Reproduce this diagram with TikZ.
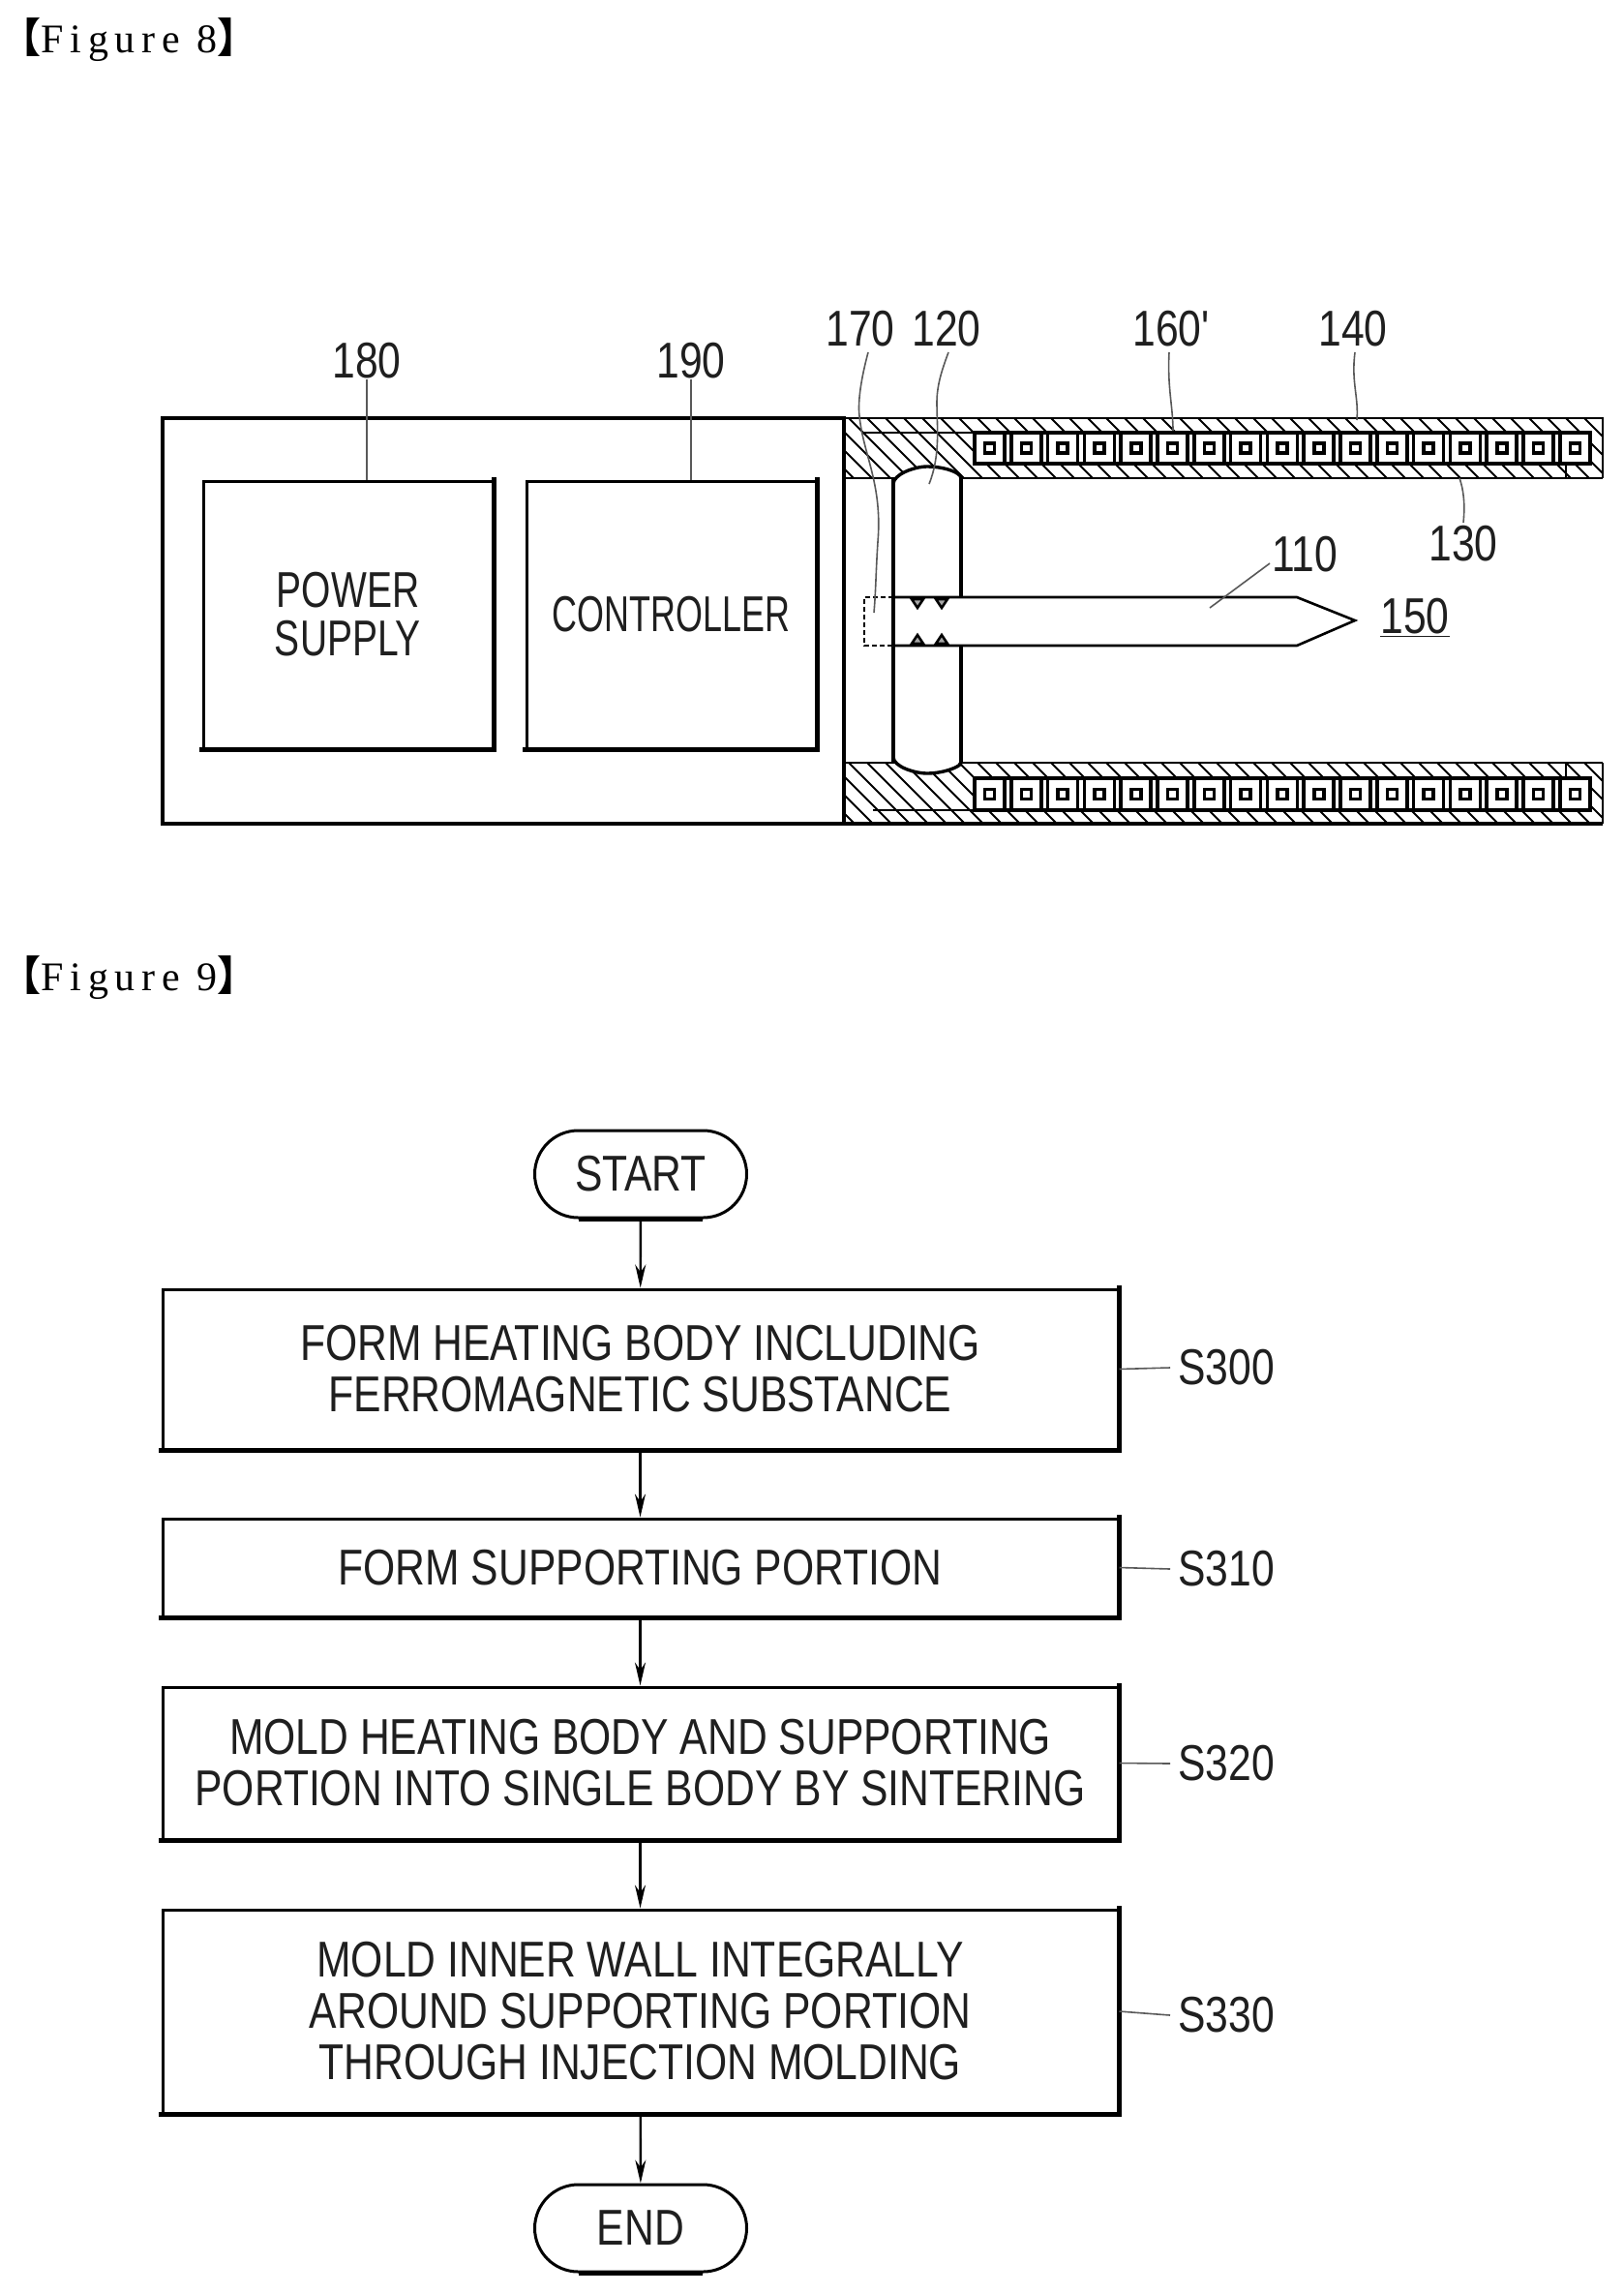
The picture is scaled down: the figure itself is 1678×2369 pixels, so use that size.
\documentclass[tikz,border=0pt]{standalone}
\usepackage{fontspec}
\usetikzlibrary{arrows.meta,shapes.misc}
\setmainfont{Liberation Serif}
\newfontfamily\lab[FakeStretch=0.82]{Liberation Sans}
\newfontfamily\labp[FakeStretch=0.75]{Liberation Sans}
\newfontfamily\labc[FakeStretch=0.69]{Liberation Sans}
\newfontfamily\headf[LetterSpace=16.4]{Liberation Serif}
\newfontfamily\cjk{Noto Sans CJK JP}
\newcommand{\labsize}{\fontsize{52}{54}\selectfont\lab}
\tikzset{
  x=1pt,y=-1pt,
  head/.style={anchor=west,inner sep=0pt,font=\fontsize{42}{46}\selectfont\headf},
  txt/.style={inner sep=0pt,align=center,font=\labsize,text=black!88},
  flowbox/.style={draw,line width=3pt,fill=white,minimum width=987pt,align=center,inner sep=0pt,font=\labsize,text=black!88},
  sidebox/.style={draw,line width=3pt,fill=white,minimum width=299pt,minimum height=276pt,align=center,inner sep=0pt,text=black!88},
  term/.style={draw,line width=3pt,fill=white,rounded rectangle,minimum width=219pt,minimum height=90pt,inner sep=0pt,font=\labsize,text=black!88},
  shade/.style={line width=5pt,line cap=rect},
  termshade/.style={line width=5pt},
  arr/.style={line width=2.4pt,-{Stealth[length=24pt,width=11pt]}},
  leader/.style={line width=1.6pt,black!65},
  wall/.style={line width=3.4pt},
  thinline/.style={line width=2pt},
  hatch/.style={line width=2.1pt},
  coil/.style={draw,line width=3.6pt,fill=white},
  coilin/.style={draw,line width=3.6pt,fill=white},
  tooth/.style={draw,line width=2.6pt,fill=black!35},
}
\begin{document}
\begin{tikzpicture}
\useasboundingbox (0,0) rectangle (1678,2369);
\fill[white] (0,0) rectangle (1678,2369);

% headings
\node[head] (h8) at (0,41) {{\cjk\bfseries 【}Figure 8{\cjk\bfseries 】}};
\node[head] (h9) at (0,1010) {{\cjk\bfseries 【}Figure 9{\cjk\bfseries 】}};

% Figure 8: housing
\draw[wall] (168,432) rectangle (872,851);
\node[sidebox,font=\fontsize{52}{50}\selectfont\labp] (ps) at (359.5,635) {POWER\\SUPPLY};
\node[sidebox,font=\fontsize{52}{54}\selectfont\labc] (ctl) at (693.5,635) {CONTROLLER};
\draw[shade] (ps.south west) -- (ps.south east) -- (ps.north east);
\draw[shade] (ctl.south west) -- (ctl.south east) -- (ctl.north east);

% Figure 8: hatched wall
\begin{scope}
  \clip (872,432) rectangle (1656,494) (872,788) rectangle (1656,851);
  \foreach \k in {0,...,90}{
    \pgfmathsetmacro{\xs}{440+19*\k}
    \draw[hatch] (\xs,432) -- ++(70,70);
    \draw[hatch] (\xs,788) -- ++(70,70);
  }
\end{scope}
\draw[thinline] (872,432) -- (1656,432) -- (1656,494);
\draw[wall] (872,851) -- (1656,851);
\draw[thinline] (1656,851) -- (1656,788);
\draw[wall] (872,432) -- (872,851);
\draw[thinline] (872,494) -- (1656,494);
\draw[thinline] (872,788) -- (1656,788);

% support portion
\fill[white] (923,500) .. controls (923,490) and (945,482) .. (958,482) .. controls (975,482) and (993,488) .. (993,500)
  -- (993,782) .. controls (993,792) and (975,799) .. (958,799) .. controls (945,799) and (923,792) .. (923,782) -- cycle;
\draw[wall] (923,500) .. controls (923,490) and (945,482) .. (958,482) .. controls (975,482) and (993,488) .. (993,494);
\draw[wall] (923,782) .. controls (923,792) and (945,799) .. (958,799) .. controls (975,799) and (993,792) .. (993,788);
\draw[wall] (923,494) -- (923,788);
\draw[wall] (993,494) -- (993,617);
\draw[wall] (993,667) -- (993,788);

% coil rows
\draw[thinline] (890,447) -- (1007,447);
\draw[thinline] (902,837) -- (1007,837);
\fill[white] (1007,447) rectangle (1642,479);
\fill[white] (1007,804) rectangle (1642,837);
\draw[wall] (1007,447) -- (1642,447) -- (1642,479) -- (1007,479);
\draw[wall] (1007,804) -- (1642,804) -- (1642,837) -- (1007,837);
\draw[thinline] (1618,479) -- (1618,494) (1618,788) -- (1618,804);
\foreach \k in {0,...,16}{
  \pgfmathsetmacro{\xa}{1007+37.8*\k}
  \pgfmathsetmacro{\xb}{\xa+31}
  \pgfmathsetmacro{\xc}{\xa+10.5}
  \pgfmathsetmacro{\xd}{\xa+20.5}
  \draw[coil] (\xa,447) rectangle (\xb,479);
  \draw[coilin] (\xc,458) rectangle (\xd,468);
  \draw[coil] (\xa,804) rectangle (\xb,837);
  \draw[coilin] (\xc,815.5) rectangle (\xd,825.5);
}

% heating body
\fill[white] (893,617) -- (1340,617) -- (1400,641) -- (1340,667) -- (893,667) -- cycle;
\draw[thinline,dash pattern=on 5pt off 3pt] (923,617) -- (893,617) -- (893,667) -- (923,667);
\draw[line width=2.6pt] (923,617) -- (1340,617) -- (1400,641) -- (1340,667) -- (923,667);
\draw[wall] (923,617) -- (923,667);
\draw[tooth] (942,619) -- (954,619) -- (948,628) -- cycle;
\draw[tooth] (967,619) -- (979,619) -- (973,628) -- cycle;
\draw[tooth] (942,665) -- (954,665) -- (948,656) -- cycle;
\draw[tooth] (967,665) -- (979,665) -- (973,656) -- cycle;

% Figure 8: labels
\node[txt] (l180) at (379,373) {180};
\node[txt] (l190) at (714,373) {190};
\node[txt] (l170) at (889,340) {170};
\node[txt] (l120) at (978,340) {120};
\node[txt] (l160) at (1210,340) {160'};
\node[txt] (l140) at (1398,340) {140};
\node[txt] (l130) at (1512,562) {130};
\node[txt] (l110) at (1348,573) {110};
\node[txt] (l150) at (1462,638) {\underline{150}};
\coordinate (e170) at (903,633);
\coordinate (e120) at (960,500);
\coordinate (e160) at (1212,445);
\coordinate (e140) at (1402,434);
\coordinate (e130) at (1508,494);
\coordinate (e110) at (1250,628);
\draw[leader] (l180.south) -- (ps.north -| l180.south);
\draw[leader] (l190.south) -- (ctl.north -| l190.south);
\draw[leader] (897,364) .. controls (890,390) and (886,415) .. (888,430) .. controls (892,470) and (912,500) .. (907,560) .. controls (905,590) and (905,610) .. (e170);
\draw[leader] (980,364) .. controls (972,385) and (968,400) .. (968,416) .. controls (968,440) and (972,470) .. (e120);
\draw[leader] (1208,364) .. controls (1206,400) and (1212,420) .. (e160);
\draw[leader] (1400,364) .. controls (1396,395) and (1404,410) .. (e140);
\draw[leader] (e130) .. controls (1512,505) and (1514,520) .. (1512,540);
\draw[leader] (e110) -- (1312,582);

% Figure 9
\node[term] (start) at (662,1213) {START};
\node[flowbox,minimum height=165pt] (b1) at (661.5,1414.5) {FORM HEATING BODY INCLUDING\\[-1pt]FERROMAGNETIC SUBSTANCE};
\node[flowbox,minimum height=101pt] (b2) at (661.5,1619.5) {FORM SUPPORTING PORTION};
\node[flowbox,minimum height=157pt] (b3) at (661.5,1821.5) {MOLD HEATING BODY AND SUPPORTING\\[-1pt]PORTION INTO SINGLE BODY BY SINTERING};
\node[flowbox,minimum height=210pt] (b4) at (661.5,2078) {MOLD INNER WALL INTEGRALLY\\[-1pt]AROUND SUPPORTING PORTION\\[-1pt]THROUGH INJECTION MOLDING};
\node[term] (end) at (662,2302) {END};
\foreach \b in {b1,b2,b3,b4}{
  \draw[shade] (\b.south west) -- (\b.south east) -- (\b.north east);
}
\draw[termshade] ([xshift=-64pt]start.south) -- ([xshift=64pt]start.south);
\draw[termshade] ([xshift=-64pt]end.south) -- ([xshift=64pt]end.south);
\draw[arr] (start) -- (b1);
\draw[arr] (b1) -- (b2);
\draw[arr] (b2) -- (b3);
\draw[arr] (b3) -- (b4);
\draw[arr] (b4) -- (end);
\node[txt,anchor=west] (s300) at (1217,1413) {S300};
\node[txt,anchor=west] (s310) at (1217,1621) {S310};
\node[txt,anchor=west] (s320) at (1217,1822) {S320};
\node[txt,anchor=west] (s330) at (1217,2082) {S330};
\draw[leader] (b1.east) -- ([xshift=-8pt]s300.west);
\draw[leader] (b2.east) -- ([xshift=-8pt]s310.west);
\draw[leader] (b3.east) -- ([xshift=-8pt]s320.west);
\draw[leader] (b4.east) -- ([xshift=-8pt]s330.west);
\end{tikzpicture}
\end{document}
